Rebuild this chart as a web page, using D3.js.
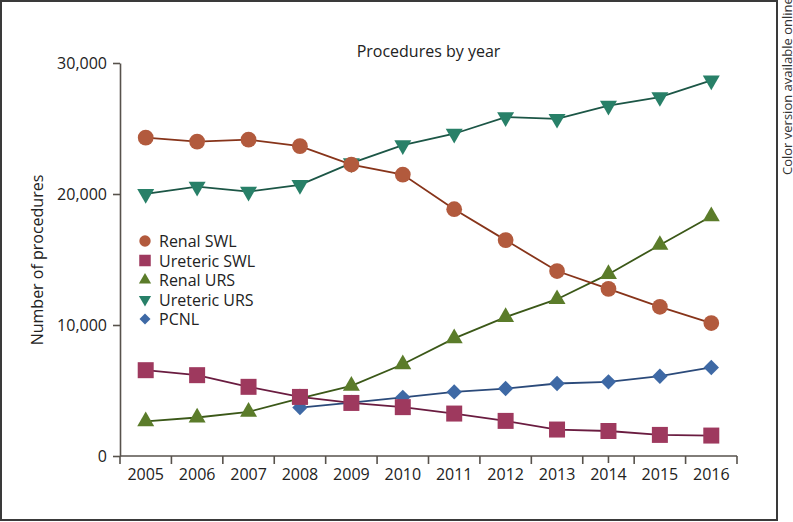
<!DOCTYPE html>
<html>
<head>
<meta charset="utf-8">
<script src="https://cdn.jsdelivr.net/npm/d3@7"></script>
<style>
  html, body { margin: 0; padding: 0; background: #fff; }
  svg { display: block; font-family: "Open Sans", "Noto Sans", sans-serif; }
</style>
</head>
<body>
<svg id="chart" width="793" height="522"></svg>
<script>
// ---- data ----
const years = ["2005","2006","2007","2008","2009","2010","2011","2012","2013","2014","2015","2016"];
const renalSWL    = [24300, 24000, 24150, 23650, 22250, 21480, 18840, 16480, 14120, 12760, 11390, 10150];
const uretericSWL = [6550, 6170, 5280, 4510, 4050, 3730, 3240, 2680, 2020, 1910, 1610, 1560];
const renalURS    = [2650, 2940, 3370, 4400, 5350, 7000, 8975, 10600, 11970, 13880, 16110, 18300];
const uretericURS = [20010, 20560, 20180, 20700, 22360, 23730, 24600, 25870, 25740, 26740, 27400, 28670];
const pcnl        = [null, null, null, 3700, 4080, 4480, 4890, 5150, 5535, 5660, 6090, 6760];
const seriesNames = ["Renal SWL", "Ureteric SWL", "Renal URS", "Ureteric URS", "PCNL"];
const yTicks = [0, 10000, 20000, 30000];
const titleText = "Procedures by year";
const yLabel = "Number of procedures";
const sideNote = "Color version available online";

// ---- styles ----
const styles = {
  "Renal SWL":    {values: renalSWL,    fill: "#b25a3d", line: "#87341a", shape: "circle"},
  "Ureteric SWL": {values: uretericSWL, fill: "#9e395e", line: "#6a1c40", shape: "square"},
  "Renal URS":    {values: renalURS,    fill: "#5b7c2a", line: "#3b5818", shape: "up"},
  "Ureteric URS": {values: uretericURS, fill: "#288068", line: "#1c5646", shape: "down"},
  "PCNL":         {values: pcnl,        fill: "#3e69a5", line: "#2b4a7a", shape: "diamond"}
};

const svg = d3.select("#chart");
const axisColor = "#57524c";
const textColor = "#222";

// frame
svg.append("rect").attr("x", 1).attr("y", 1).attr("width", 776).attr("height", 519)
  .attr("fill", "none").attr("stroke", "#3a3a3a").attr("stroke-width", 2);

const x = d3.scaleBand().domain(years).range([120, 737]).padding(0);
const y = d3.scaleLinear().domain([0, 30000]).range([456, 63]);
const cx = d => x(d) + x.bandwidth() / 2;

// y axis
const yAxis = svg.append("g").attr("transform", "translate(120,0)")
  .call(d3.axisLeft(y).tickValues(yTicks).tickFormat(d3.format(",")).tickSize(7).tickSizeOuter(0).tickPadding(6));
yAxis.select(".domain").attr("stroke", axisColor).attr("stroke-width", 1.6);
yAxis.selectAll(".tick line").attr("stroke", axisColor).attr("stroke-width", 1.6);
yAxis.selectAll(".tick text").attr("fill", textColor).style("font-size", "16px")
  .style("font-family", "'Open Sans', sans-serif");

// x axis (ticks at band boundaries)
const xg = svg.append("g");
xg.append("line").attr("x1", x.range()[0]).attr("x2", x.range()[1])
  .attr("y1", y(0)).attr("y2", y(0)).attr("stroke", axisColor).attr("stroke-width", 1.6);
const bounds = years.map(d => x(d)).concat([x.range()[1]]);
xg.selectAll("line.tk").data(bounds).join("line").attr("class", "tk")
  .attr("x1", d => d).attr("x2", d => d).attr("y1", y(0)).attr("y2", y(0) + 8)
  .attr("stroke", axisColor).attr("stroke-width", 1.6);
// stray tick present in the original at 2014
xg.append("line").attr("x1", cx("2014")).attr("x2", cx("2014")).attr("y1", y(0)).attr("y2", y(0) + 7)
  .attr("stroke", axisColor).attr("stroke-width", 1.6);
xg.selectAll("text").data(years).join("text")
  .attr("x", d => cx(d)).attr("y", y(0) + 24).attr("text-anchor", "middle")
  .attr("fill", textColor).style("font-size", "16px").text(d => d);

// title
svg.append("text").attr("x", 428.5).attr("y", 57).attr("text-anchor", "middle")
  .attr("fill", textColor).style("font-size", "16px").text(titleText);

// y label
svg.append("text").attr("transform", "translate(43,260) rotate(-90)").attr("text-anchor", "middle")
  .attr("fill", textColor).style("font-size", "16px").text(yLabel);

// side note
svg.append("text").attr("transform", "translate(792,175) rotate(-90)").attr("text-anchor", "start")
  .attr("fill", "#333").style("font-size", "13px").text(sideNote);

// symbol helper
function symbolPath(shape, scale) {
  const k = scale * scale;
  switch (shape) {
    case "circle":  return {d: d3.symbol(d3.symbolCircle, 195 * k)(), rot: 0};
    case "square":  return {d: d3.symbol(d3.symbolSquare, 256 * k)(), rot: 0};
    case "up":      return {d: d3.symbol(d3.symbolTriangle, 125 * k)(), rot: 0};
    case "down":    return {d: d3.symbol(d3.symbolTriangle, 125 * k)(), rot: 180};
    case "diamond": return {d: d3.symbol(d3.symbolSquare, 118 * k)(), rot: 45};
  }
}

// series (drawn in reverse so Renal SWL is on top)
const line = d3.line().defined(d => d.v != null).x(d => cx(d.year)).y(d => y(d.v));
seriesNames.slice().reverse().forEach(name => {
  const s = styles[name];
  const pts = years.map((yr, i) => ({year: yr, v: s.values[i]}));
  const g = svg.append("g");
  g.append("path").datum(pts).attr("d", line).attr("fill", "none")
    .attr("stroke", s.line).attr("stroke-width", 1.8);
  const sym = symbolPath(s.shape, 1);
  g.selectAll("path.m").data(pts.filter(d => d.v != null)).join("path").attr("class", "m")
    .attr("d", sym.d)
    .attr("transform", d => `translate(${cx(d.year)},${y(d.v)}) rotate(${sym.rot})`)
    .attr("fill", s.fill);
});

// legend
const legend = svg.append("g");
const legendY0 = 241, legendStep = 19.5;
seriesNames.forEach((name, i) => {
  const s = styles[name];
  const sym = symbolPath(s.shape, 0.72);
  const yy = legendY0 + i * legendStep;
  legend.append("path").attr("d", sym.d)
    .attr("transform", `translate(145,${yy}) rotate(${sym.rot})`).attr("fill", s.fill);
  legend.append("text").attr("x", 159).attr("y", yy + 6)
    .attr("fill", textColor).style("font-size", "16px").text(name);
});
</script>
</body>
</html>
